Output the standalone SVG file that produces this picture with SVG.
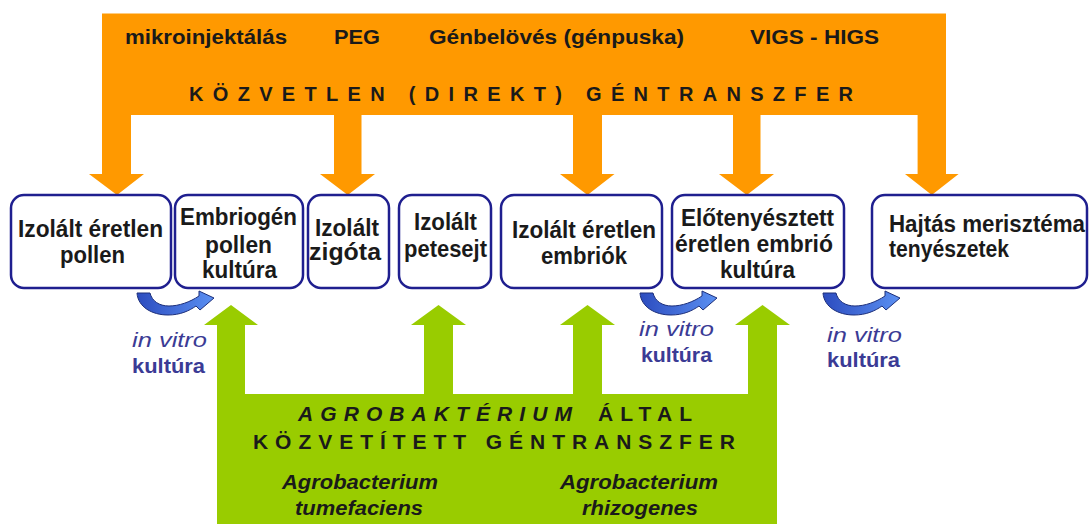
<svg xmlns="http://www.w3.org/2000/svg" width="1091" height="524" viewBox="0 0 1091 524">
<defs>
<linearGradient id="bg" x1="0" y1="0" x2="1" y2="0">
<stop offset="0" stop-color="#2c4cbf"/>
<stop offset="1" stop-color="#5b90f2"/>
</linearGradient>
<style>
text{font-family:"Liberation Sans",Arial,sans-serif;font-weight:bold;fill:#1a1a1a}
.top{font-size:20px}
.nd{font-size:23px}
.box{fill:#fff;stroke:#1f1f8f;stroke-width:2.5}
.iv{font-size:20px;fill:#3b3b95}
.ivi{font-style:italic;font-weight:normal}
.gr{font-size:21px}
.it{font-style:italic}
.curl{fill:url(#bg);stroke:#1d2f7a;stroke-width:1}
</style>
</defs>
<rect width="1091" height="524" fill="#fff"/>
<g id="connectors">
<g id="direct">
<path fill="#ff9900" d="M102,13.5 H946 V174 H958.6 L931.8,195 L905,174 H917.6 V115 H760.5 V174 H774 L746.75,195 L719,174 H733 V115 H602 V174 H614.5 L587.5,195 L560,174 H573 V115 H361.5 V174 H375 L347.75,195 L320,174 H334 V115 H131 V174 H144 L117,195 L89,174 H102 Z"/>
<text class="top" x="125" y="43.5" textLength="162" lengthAdjust="spacingAndGlyphs">mikroinjektálás</text>
<text class="top" x="334" y="43.5" textLength="46" lengthAdjust="spacingAndGlyphs">PEG</text>
<text class="top" x="429" y="43.5" textLength="255" lengthAdjust="spacingAndGlyphs">Génbelövés (génpuska)</text>
<text class="top" x="750" y="43.5" textLength="129" lengthAdjust="spacingAndGlyphs">VIGS - HIGS</text>
<text class="top" x="189" y="101" textLength="664">KÖZVETLEN (DIREKT) GÉNTRANSZFER</text>
</g>
<g id="agro">
<path fill="#99cc00" d="M217,524 V325 H204 L231,305 L258,325 H245 V394 H424 V325 H411 L438.5,305 L466,325 H453 V394 H573 V325 H560 L587.5,305 L615,325 H602 V394 H748 V325 H735 L762.5,305 L790,325 H777 V524 Z"/>
<text class="gr it" x="298" y="420.5" textLength="274">AGROBAKTÉRIUM</text>
<text class="gr" x="598" y="420.5" textLength="94">ÁLTAL</text>
<text class="gr" x="253" y="449" textLength="482">KÖZVETÍTETT GÉNTRANSZFER</text>
<text class="gr it" x="282" y="489" textLength="156" lengthAdjust="spacingAndGlyphs">Agrobacterium</text>
<text class="gr it" x="295" y="515" textLength="128" lengthAdjust="spacingAndGlyphs">tumefaciens</text>
<text class="gr it" x="560" y="489" textLength="158" lengthAdjust="spacingAndGlyphs">Agrobacterium</text>
<text class="gr it" x="582" y="515" textLength="116" lengthAdjust="spacingAndGlyphs">rhizogenes</text>
</g>
<g id="invitro1">
<path class="curl" transform="translate(137,292)" d="M0,1 C1,15 15,23 31,23 C43,23 52,19 59,14 L63,18 L77,6 L62,-1 L62,4 C53,10 42,14 32,14 C22,14 15,9 13,1 Z"/>
<text class="iv ivi" x="132" y="347" textLength="75" lengthAdjust="spacingAndGlyphs">in vitro</text>
<text class="iv" x="132" y="373" textLength="73" lengthAdjust="spacingAndGlyphs">kultúra</text>
</g>
<g id="invitro2">
<path class="curl" transform="translate(640,292)" d="M0,1 C1,15 15,23 31,23 C43,23 52,19 59,14 L63,18 L77,6 L62,-1 L62,4 C53,10 42,14 32,14 C22,14 15,9 13,1 Z"/>
<text class="iv ivi" x="639" y="336" textLength="75" lengthAdjust="spacingAndGlyphs">in vitro</text>
<text class="iv" x="641" y="362" textLength="71" lengthAdjust="spacingAndGlyphs">kultúra</text>
</g>
<g id="invitro3">
<path class="curl" transform="translate(823,292)" d="M0,1 C1,15 15,23 31,23 C43,23 52,19 59,14 L63,18 L77,6 L62,-1 L62,4 C53,10 42,14 32,14 C22,14 15,9 13,1 Z"/>
<text class="iv ivi" x="827" y="342" textLength="75" lengthAdjust="spacingAndGlyphs">in vitro</text>
<text class="iv" x="827" y="367" textLength="73" lengthAdjust="spacingAndGlyphs">kultúra</text>
</g>
</g>
<g id="n1"><rect class="box" x="11" y="195" width="160" height="93" rx="13"/>
<text class="nd" x="18" y="237" textLength="145" lengthAdjust="spacingAndGlyphs">Izolált éretlen</text>
<text class="nd" x="60" y="263" textLength="65" lengthAdjust="spacingAndGlyphs">pollen</text></g>
<g id="n2"><rect class="box" x="175" y="195" width="128" height="93" rx="13"/>
<text class="nd" x="180" y="225" textLength="117" lengthAdjust="spacingAndGlyphs">Embriogén</text>
<text class="nd" x="205" y="253" textLength="67" lengthAdjust="spacingAndGlyphs">pollen</text>
<text class="nd" x="202" y="278" textLength="75" lengthAdjust="spacingAndGlyphs">kultúra</text></g>
<g id="n3"><rect class="box" x="308" y="195" width="81" height="93" rx="13"/>
<text class="nd" x="315" y="236" textLength="64" lengthAdjust="spacingAndGlyphs">Izolált</text>
<text class="nd" x="309" y="260" textLength="72" lengthAdjust="spacingAndGlyphs">zigóta</text></g>
<g id="n4"><rect class="box" x="399" y="195" width="92" height="93" rx="13"/>
<text class="nd" x="414" y="230" textLength="63" lengthAdjust="spacingAndGlyphs">Izolált</text>
<text class="nd" x="404" y="257" textLength="83" lengthAdjust="spacingAndGlyphs">petesejt</text></g>
<g id="n5"><rect class="box" x="501" y="195" width="161" height="93" rx="13"/>
<text class="nd" x="512" y="238" textLength="144" lengthAdjust="spacingAndGlyphs">Izolált éretlen</text>
<text class="nd" x="541" y="264" textLength="86" lengthAdjust="spacingAndGlyphs">embriók</text></g>
<g id="n6"><rect class="box" x="672" y="195" width="172" height="93" rx="13"/>
<text class="nd" x="681" y="226" textLength="153" lengthAdjust="spacingAndGlyphs">Előtenyésztett</text>
<text class="nd" x="675" y="252" textLength="158" lengthAdjust="spacingAndGlyphs">éretlen embrió</text>
<text class="nd" x="720" y="278" textLength="75" lengthAdjust="spacingAndGlyphs">kultúra</text></g>
<g id="n7"><rect class="box" x="872" y="195" width="215" height="93" rx="13"/>
<text class="nd" x="889" y="232" textLength="196" lengthAdjust="spacingAndGlyphs">Hajtás merisztéma</text>
<text class="nd" x="889" y="257" textLength="120" lengthAdjust="spacingAndGlyphs">tenyészetek</text></g>
</svg>
